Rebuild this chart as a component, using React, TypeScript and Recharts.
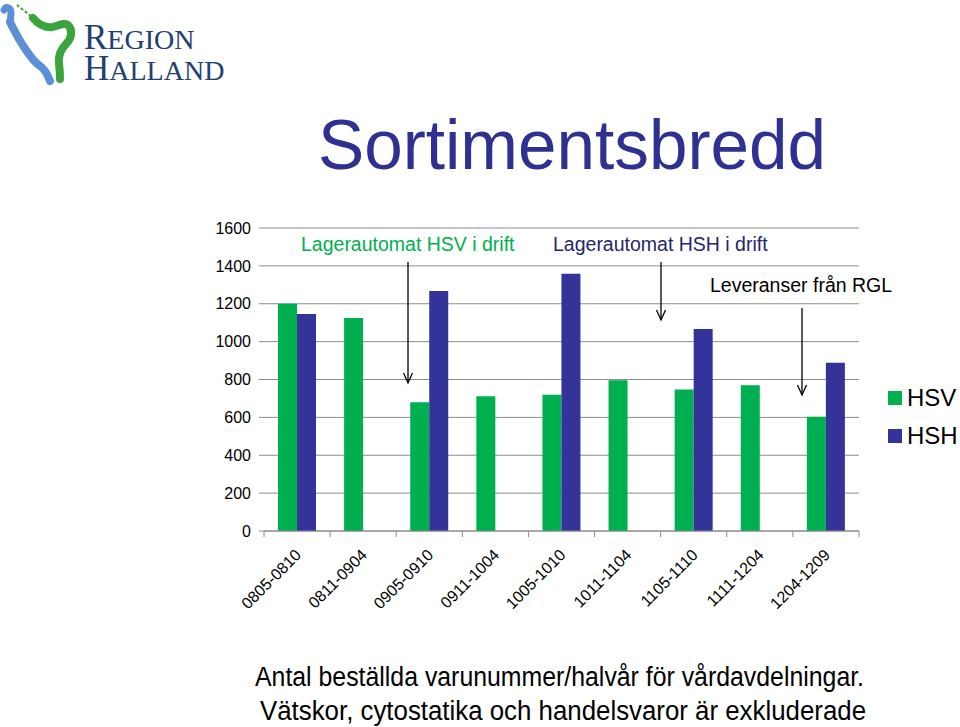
import React from 'react';
import { BarChart, Bar, XAxis, YAxis, CartesianGrid, Legend } from 'recharts';

// --- Sortimentsbredd data ---
const periods = ['0805-0810', '0811-0904', '0905-0910', '0911-1004', '1005-1010', '1011-1104', '1105-1110', '1111-1204', '1204-1209'];
const hsvValues = [1200, 1125, 680, 712, 719, 796, 747, 770, 603];
const hshValues = [1146, null, 1267, null, 1359, null, 1067, null, 888];
const yTicks = [0, 200, 400, 600, 800, 1000, 1200, 1400, 1600];
const seriesOrder = ['HSV', 'HSH'];

const chartData = periods.map((p, i) => ({ period: p, HSV: hsvValues[i], HSH: hshValues[i] }));

const FONT = '"Liberation Sans", Arial, sans-serif';
const SERIF = '"Liberation Serif", "DejaVu Serif", serif';
const GREEN = '#00b050';
const NAVY = '#333399';
const GRID = '#8c8c8c';

const XTick = (props: any) => {
  const { x, y, payload, index, visibleTicksCount } = props;
  const half = payload && payload.offset ? payload.offset : 33;
  const last = index === (visibleTicksCount ?? periods.length) - 1;
  return (
    <g>
      <line x1={x - half} x2={x - half} y1={y} y2={y + 6} stroke={GRID} />
      {last && <line x1={x + half} x2={x + half} y1={y} y2={y + 6} stroke={GRID} />}
      <text
        x={x + 5}
        y={y + 25}
        textAnchor="end"
        fontSize={16}
        fontFamily={FONT}
        fill="#000"
        transform={`rotate(-45, ${x + 5}, ${y + 25})`}
      >
        {payload.value}
      </text>
    </g>
  );
};

const LegendBox = ({ payload }: any) => {
  const items = [...(payload || [])].sort(
    (a: any, b: any) => seriesOrder.indexOf(a.value) - seriesOrder.indexOf(b.value)
  );
  return (
    <div style={{ fontFamily: FONT }}>
      {items.map((entry: any) => (
        <div key={entry.value} style={{ display: 'flex', alignItems: 'center', height: 38 }}>
          <div style={{ width: 14, height: 14, background: entry.color, marginRight: 5 }} />
          <span style={{ fontSize: 24, color: '#000' }}>{entry.value}</span>
        </div>
      ))}
    </div>
  );
};

const Arrow = ({ x, y1, y2 }: { x: number; y1: number; y2: number }) => (
  <g stroke="#000" strokeWidth={1.3} fill="none">
    <line x1={x} x2={x} y1={y1} y2={y2} />
    <polyline points={`${x - 4.5},${y2 - 10} ${x},${y2} ${x + 4.5},${y2 - 10}`} />
  </g>
);

const Logo = () => (
  <g>
    <path d="M4 10 C6 6 11 7 11 13 C11 18 9 22 12 27" stroke="#5b8fd8" strokeWidth={7} fill="none" strokeLinecap="round" />
    <path
      d="M10 22 C16 34 20 42 26 50 C30 56 34 62 40 66 C46 70 48 76 50 81"
      stroke="#5b8fd8"
      strokeWidth={8}
      fill="none"
      strokeLinecap="round"
    />
    <path d="M17 5 C22 9 28 14 34 18" stroke="#3aa53c" strokeWidth={2} fill="none" strokeDasharray="3 2" />
    <path
      d="M33 18 C38 24 44 28 52 27 C58 26 64 22 68 25 C73 30 72 38 66 44 C61 49 58 56 59 64 C60 70 60 75 60 79"
      stroke="#3aa53c"
      strokeWidth={8}
      fill="none"
      strokeLinecap="round"
    />
    <text x={84} y={49} fontFamily={SERIF} fill="#22406f">
      <tspan fontSize={35}>R</tspan>
      <tspan fontSize={28}>EGION</tspan>
    </text>
    <text x={84} y={80} fontFamily={SERIF} fill="#22406f">
      <tspan fontSize={35}>H</tspan>
      <tspan fontSize={28}>ALLAND</tspan>
    </text>
  </g>
);

export default function App() {
  return (
    <div style={{ position: 'absolute', left: 0, top: 0, width: 960, height: 727, background: '#fff', fontFamily: FONT, overflow: 'hidden' }}>
      <BarChart
        width={960}
        height={727}
        data={chartData}
        margin={{ top: 228, right: 29, left: 204, bottom: 116 }}
        barGap={0}
        barSize={19}
      >
        <CartesianGrid horizontal vertical={false} stroke={GRID} />
        <XAxis
          dataKey="period"
          interval={0}
          height={80}
          axisLine={{ stroke: GRID }}
          tickLine={false}
          tickSize={0}
          tickMargin={0}
          tick={<XTick />}
        />
        <YAxis
          width={60}
          domain={[0, 1600]}
          ticks={yTicks}
          axisLine={false}
          tickLine={{ stroke: GRID }}
          tickSize={5}
          tickMargin={8}
          tick={{ fontSize: 16, fill: '#000', fontFamily: FONT }}
        />
        <Legend
          layout="vertical"
          verticalAlign="top"
          align="right"
          wrapperStyle={{ position: 'absolute', left: 888, top: 379, width: 72 }}
          content={<LegendBox />}
        />
        <Bar dataKey="HSV" fill={GREEN} isAnimationActive={false} />
        <Bar dataKey="HSH" fill={NAVY} isAnimationActive={false} />
      </BarChart>
      <svg width={960} height={727} style={{ position: 'absolute', left: 0, top: 0, pointerEvents: 'none' }}>
        <Logo />
        <text x={318} y={169} fontSize={70} fontFamily={FONT} fill="#2e3192" textLength={508} lengthAdjust="spacingAndGlyphs">
          Sortimentsbredd
        </text>
        <text x={301} y={251} fontSize={19.5} fontFamily={FONT} fill={GREEN}>Lagerautomat HSV i drift</text>
        <text x={553} y={251} fontSize={19.5} fontFamily={FONT} fill="#26266e">Lagerautomat HSH i drift</text>
        <text x={710} y={292} fontSize={19.5} fontFamily={FONT} fill="#000">Leveranser från RGL</text>
        <Arrow x={408} y1={262} y2={383} />
        <Arrow x={661} y1={262} y2={320} />
        <Arrow x={802} y1={308} y2={395} />
        <text x={255} y={686} fontSize={27} fontFamily={FONT} fill="#000" textLength={609} lengthAdjust="spacingAndGlyphs">
          Antal beställda varunummer/halvår för vårdavdelningar.
        </text>
        <text x={260} y={720} fontSize={27} fontFamily={FONT} fill="#000" textLength={606} lengthAdjust="spacingAndGlyphs">
          Vätskor, cytostatika och handelsvaror är exkluderade
        </text>
      </svg>
    </div>
  );
}
